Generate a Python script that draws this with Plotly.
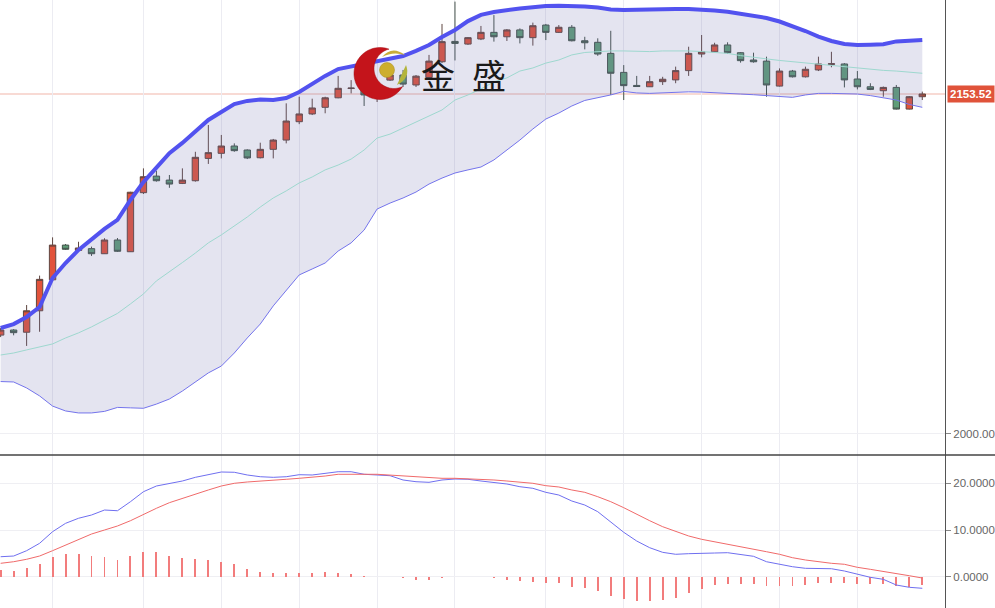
import numpy as np
import plotly.graph_objects as go

# ---------------- data ----------------
open_ = [2044.5, 2046.8, 2045.8, 2055.5, 2069.5, 2085.2, 2082.8, 2083.6, 2081.3, 2087.5,
         2082.2, 2108.9, 2116.4, 2114.6, 2113.1, 2114.3, 2124.4, 2126.7, 2130.0, 2128.2,
         2124.7, 2128.5, 2132.7, 2141.0, 2144.5, 2147.5, 2151.8, 2156.0, 2158.9, 2153.1,
         2159.8, 2162.1, 2157.6, 2161.0, 2168.1, 2177.3, 2176.1, 2178.4, 2181.4, 2179.4,
         2182.5, 2179.0, 2184.7, 2181.4, 2183.7, 2177.6, 2176.9, 2171.9, 2163.3, 2157.4,
         2156.8, 2159.1, 2159.9, 2164.1, 2171.6, 2172.6, 2175.7, 2172.2, 2168.9, 2168.4,
         2157.1, 2163.9, 2161.3, 2164.4, 2166.9, 2167.1, 2160.3, 2156.8, 2155.0, 2156.5,
         2146.7, 2152.3]
high = [2047.7, 2047.2, 2058.1, 2071.4, 2088.7, 2085.7, 2086.7, 2084.5, 2088.3, 2088.4,
        2109.3, 2119.9, 2118.8, 2116.9, 2119.9, 2127.4, 2139.5, 2135.0, 2131.2, 2128.5,
        2131.5, 2133.2, 2149.3, 2152.3, 2151.4, 2152.3, 2161.7, 2159.8, 2160.8, 2159.8,
        2163.6, 2164.4, 2162.1, 2171.2, 2185.2, 2195.3, 2179.3, 2184.3, 2189.2, 2182.9,
        2183.2, 2185.8, 2185.2, 2184.7, 2184.7, 2179.4, 2178.7, 2182.1, 2166.6, 2161.7,
        2161.7, 2161.3, 2165.9, 2174.9, 2180.2, 2176.7, 2176.9, 2172.5, 2172.2, 2170.4,
        2165.1, 2164.4, 2165.9, 2170.4, 2172.6, 2167.5, 2163.9, 2158.4, 2156.9, 2157.6,
        2152.6, 2154.6]
low = [2043.6, 2044.4, 2039.6, 2046.0, 2069.3, 2083.0, 2082.5, 2080.3, 2081.2, 2082.1,
       2082.1, 2108.3, 2113.9, 2111.1, 2112.8, 2113.9, 2121.9, 2124.4, 2127.4, 2124.1,
       2124.4, 2124.4, 2131.2, 2139.9, 2144.0, 2144.8, 2151.6, 2153.8, 2148.1, 2149.9,
       2159.4, 2156.7, 2156.7, 2160.8, 2167.5, 2168.7, 2175.7, 2177.9, 2177.2, 2177.5,
       2176.4, 2175.4, 2177.9, 2181.1, 2177.3, 2173.7, 2170.8, 2153.1, 2150.8, 2156.7,
       2156.7, 2157.6, 2158.4, 2161.7, 2170.1, 2172.3, 2171.8, 2167.7, 2167.7, 2152.3,
       2156.9, 2161.0, 2161.0, 2163.9, 2165.6, 2156.5, 2155.6, 2155.3, 2152.3, 2146.5,
       2146.5, 2150.8]
close = [2046.8, 2045.6, 2055.5, 2069.7, 2085.2, 2083.3, 2083.9, 2081.3, 2087.5, 2082.4,
         2109.1, 2116.1, 2114.3, 2112.8, 2114.6, 2124.9, 2127.0, 2130.0, 2127.9, 2124.6,
         2128.5, 2132.7, 2141.3, 2144.5, 2147.2, 2151.8, 2156.1, 2156.2, 2153.1, 2157.6,
         2162.1, 2158.0, 2161.6, 2168.4, 2177.2, 2176.4, 2179.0, 2181.4, 2179.4, 2182.5,
         2179.0, 2184.4, 2181.4, 2183.7, 2177.6, 2176.7, 2171.6, 2162.9, 2157.3, 2156.9,
         2159.1, 2160.2, 2164.1, 2171.9, 2172.6, 2175.7, 2172.2, 2168.6, 2168.1, 2157.6,
         2163.9, 2161.3, 2164.7, 2167.1, 2167.2, 2159.9, 2156.8, 2155.6, 2156.5, 2146.7,
         2152.3, 2153.52]

bb_upper = [2047.7, 2049.5, 2052.7, 2057.2, 2070.3, 2077.1, 2083.0, 2088.0, 2092.5, 2096.6,
            2105.6, 2113.7, 2120.5, 2126.8, 2131.4, 2136.8, 2141.8, 2145.4, 2149.0, 2150.4,
            2151.0, 2150.8, 2151.7, 2154.4, 2158.1, 2161.7, 2164.8, 2166.0, 2167.1, 2168.5,
            2169.8, 2170.7, 2173.0, 2175.7, 2179.3, 2182.5, 2186.5, 2189.3, 2190.6, 2191.5,
            2192.2, 2192.7, 2193.3, 2193.4, 2193.3, 2193.1, 2192.6, 2191.7, 2191.5, 2191.7,
            2192.0, 2192.0, 2192.0, 2192.0, 2191.8, 2191.3, 2190.7, 2189.9, 2188.8, 2187.9,
            2186.3, 2184.3, 2182.0, 2179.5, 2177.5, 2176.1, 2175.7, 2175.8, 2176.0, 2177.3,
            2177.6, 2177.9]
bb_mid = [2035.5, 2036.4, 2037.8, 2039.1, 2040.5, 2043.2, 2045.5, 2048.2, 2051.3, 2054.3,
          2058.6, 2063.1, 2069.0, 2073.0, 2077.3, 2081.6, 2086.2, 2089.8, 2093.8, 2097.9,
          2102.4, 2106.5, 2109.7, 2113.3, 2116.0, 2119.2, 2121.4, 2124.1, 2128.2, 2133.6,
          2135.4, 2138.2, 2140.9, 2143.6, 2146.3, 2150.8, 2153.1, 2155.8, 2159.0, 2160.8,
          2163.9, 2165.3, 2167.5, 2168.9, 2171.2, 2172.3, 2172.7, 2173.0, 2173.0, 2172.7,
          2172.7, 2173.0, 2173.1, 2173.0, 2172.7, 2172.3, 2171.9, 2170.9, 2170.0, 2169.4,
          2168.7, 2168.1, 2167.5, 2167.1, 2166.5, 2166.0, 2165.1, 2164.7, 2164.2, 2163.9,
          2163.3, 2162.9]
bb_lower = [2023.5, 2023.3, 2020.6, 2017.0, 2012.4, 2010.2, 2009.3, 2009.3, 2010.0, 2011.8,
            2011.6, 2011.4, 2013.3, 2015.6, 2019.2, 2023.3, 2027.4, 2030.5, 2036.4, 2043.2,
            2049.5, 2057.7, 2064.9, 2071.7, 2074.4, 2077.1, 2082.5, 2086.2, 2092.0, 2101.5,
            2104.2, 2106.5, 2109.2, 2112.8, 2115.5, 2117.8, 2119.2, 2120.5, 2123.7, 2128.2,
            2132.7, 2137.7, 2142.2, 2144.9, 2148.1, 2150.6, 2151.7, 2153.1, 2154.7, 2154.0,
            2153.8, 2154.1, 2154.2, 2154.5, 2154.4, 2154.2, 2153.8, 2153.5, 2153.2, 2152.8,
            2152.4, 2152.0, 2153.1, 2153.8, 2153.8, 2153.8, 2153.5, 2152.8, 2151.9, 2150.8,
            2148.8, 2147.5]

dif = [4.28, 4.43, 5.57, 7.15, 9.64, 11.43, 12.51, 13.21, 14.28, 14.13,
       16.06, 18.20, 19.42, 20.00, 20.49, 21.28, 21.93, 22.42, 22.36, 21.78,
       21.41, 21.28, 21.41, 21.84, 21.78, 22.21, 22.48, 22.48, 21.93, 21.78,
       21.63, 20.71, 20.34, 20.21, 20.71, 20.92, 20.86, 20.49, 20.13, 19.85,
       19.27, 18.93, 18.07, 17.49, 16.21, 15.35, 13.92, 11.78, 9.51, 7.64,
       6.21, 5.22, 4.80, 4.93, 4.93, 5.07, 5.14, 4.80, 4.37, 3.21,
       2.66, 2.14, 1.80, 1.71, 1.71, 1.22, 0.51, -0.13, -0.56, -1.78,
       -2.27, -2.48]
dea = [2.87, 3.21, 3.73, 4.43, 5.57, 6.79, 8.01, 9.14, 10.00, 10.86,
       11.99, 13.36, 14.65, 15.85, 16.79, 17.64, 18.57, 19.42, 20.00, 20.28,
       20.43, 20.64, 20.86, 21.07, 21.28, 21.56, 21.93, 21.99, 21.93, 21.93,
       21.78, 21.56, 21.35, 21.20, 21.07, 21.07, 20.99, 20.86, 20.71, 20.49,
       20.21, 20.00, 19.49, 19.21, 18.57, 18.07, 17.13, 16.06, 14.78, 13.36,
       11.99, 10.71, 9.64, 8.72, 8.01, 7.49, 7.07, 6.42, 5.93, 5.35,
       4.80, 4.07, 3.58, 3.21, 2.87, 2.66, 2.01, 1.58, 1.07, 0.58,
       0.21, -0.28]
macd_hist = [1.43, 1.22, 1.80, 2.72, 4.15, 4.80, 4.80, 4.43, 4.15, 3.58,
             4.43, 5.22, 5.22, 4.50, 3.94, 3.79, 3.58, 3.21, 2.66, 1.58,
             1.01, 0.86, 0.86, 0.86, 0.86, 0.94, 0.90, 0.55, 0.06, 0.00,
             0.00, -0.36, -0.71, -0.71, -0.21, -0.14, -0.14, -0.07, -0.21, -0.71,
             -0.93, -1.07, -1.28, -1.43, -2.14, -2.50, -3.07, -4.07, -4.78, -5.21,
             -5.21, -5.07, -4.50, -3.43, -2.71, -1.78, -1.50, -1.50, -1.50, -2.00,
             -2.00, -2.00, -1.78, -1.43, -1.43, -1.43, -1.64, -1.64, -1.64, -2.00,
             -2.14, -1.78]

grid_idx = [4, 11, 17, 23, 29, 35, 42, 48, 54, 60, 66]
price_ticks = [2000]
macd_ticks = [0, 10, 20]
last_price = 2153.52
logo_text = ["金", "盛"]

n = len(close)
for arr in (open_, high, low, bb_upper, bb_mid, bb_lower, dif, dea, macd_hist):
    assert len(arr) == n, len(arr)
x = list(range(n))

# ---------------- layout geometry ----------------
W, H = 995, 608
PW = 945          # plot width in px (right margin holds the axis labels)
SPLIT = 455       # px from top where the MACD pane starts
split_paper = 1 - SPLIT / H


def pp(px, py):
    return px / PW, 1 - py / H


fig = go.Figure()

# Bollinger band fill
fig.add_trace(go.Scatter(x=x, y=bb_upper, mode="lines", line=dict(width=0, color="rgba(0,0,0,0)"),
                         hoverinfo="skip", showlegend=False))
fig.add_trace(go.Scatter(x=x, y=bb_lower, mode="lines", line=dict(color="#7474ec", width=1),
                         fill="tonexty", fillcolor="rgba(110,110,175,0.19)", showlegend=False))
fig.add_trace(go.Scatter(x=x, y=bb_mid, mode="lines", line=dict(color="#9ed8cf", width=1),
                         showlegend=False))
fig.add_trace(go.Scatter(x=x, y=bb_upper, mode="lines", line=dict(color="#5252ef", width=4),
                         showlegend=False))

fig.add_trace(go.Candlestick(
    x=x, open=open_, high=high, low=low, close=close,
    increasing=dict(fillcolor="#e2533b", line=dict(color="#5e4640", width=1)),
    decreasing=dict(fillcolor="#5f9e78", line=dict(color="#44524a", width=1)),
    whiskerwidth=0, showlegend=False))

# MACD pane
fig.add_trace(go.Bar(x=x, y=macd_hist, width=0.15, marker=dict(color="#f27c7c", line=dict(width=0)),
                     xaxis="x2", yaxis="y2", showlegend=False))
fig.add_trace(go.Scatter(x=x, y=dif, mode="lines", line=dict(color="#6f6ff0", width=1),
                         xaxis="x2", yaxis="y2", showlegend=False))
fig.add_trace(go.Scatter(x=x, y=dea, mode="lines", line=dict(color="#f06a6a", width=1),
                         xaxis="x2", yaxis="y2", showlegend=False))

axis_font = dict(family="Liberation Sans, Arial", size=11.5, color="#666666")
xcommon = dict(range=[-0.05, 72.75], tickvals=grid_idx, showticklabels=False, ticks="",
               showgrid=True, gridcolor="#ececf2", gridwidth=1, zeroline=False, showline=False,
               fixedrange=True)
fig.update_layout(
    width=W, height=H,
    margin=dict(l=0, r=W - PW, t=0, b=0, autoexpand=False),
    paper_bgcolor="white", plot_bgcolor="white",
    showlegend=False,
    xaxis=dict(domain=[0, 1], anchor="y", rangeslider=dict(visible=False), **xcommon),
    xaxis2=dict(domain=[0, 1], anchor="y2", **xcommon),
    yaxis=dict(domain=[split_paper, 1], side="right", range=[1990.28, 2196.03],
               tickvals=price_ticks, tickformat=".2f", ticks="outside", ticklen=5,
               tickcolor="#888888", showline=True, linecolor="#555555", linewidth=1,
               showgrid=True, gridcolor="#efeff3", zeroline=False, tickfont=axis_font,
               automargin=False),
    yaxis2=dict(domain=[0, split_paper], side="right", range=[-6.70, 26.06],
                tickvals=macd_ticks, tickformat=".4f", ticks="outside", ticklen=5,
                tickcolor="#888888", showline=True, linecolor="#555555", linewidth=1,
                showgrid=True, gridcolor="#efeff3", zeroline=False, tickfont=axis_font,
                automargin=False),
    bargap=0,
    hovermode=False,
)

shapes = []
# last price line
shapes.append(dict(type="line", xref="paper", yref="y", x0=0, x1=1, y0=last_price, y1=last_price,
                   line=dict(color="rgba(232,120,100,0.55)", width=1), layer="below"))
# pane separator
shapes.append(dict(type="line", xref="paper", yref="paper", x0=0, x1=W / PW,
                   y0=split_paper, y1=split_paper, line=dict(color="#444444", width=1.5)))

# ---- logo: red crescent, gold ball, leaves ----
C1, R1 = np.array([380.0, 73.5]), 26.0
C2, R2 = np.array([394.0, 68.5]), 20.0
dvec = C2 - C1
d = np.hypot(*dvec)
a = (R1 ** 2 - R2 ** 2 + d ** 2) / (2 * d)
h = np.sqrt(R1 ** 2 - a ** 2)
base = C1 + a * dvec / d
perp = np.array([-dvec[1], dvec[0]]) / d
PA = base + h * perp
PB = base - h * perp
t1a = np.arctan2(*(PA - C1)[::-1])
t1b = np.arctan2(*(PB - C1)[::-1])
t2a = np.arctan2(*(PA - C2)[::-1])
t2b = np.arctan2(*(PB - C2)[::-1])


def arc(c, r, t0, t1, ok, n_pts=60):
    if t1 < t0:
        t1 += 2 * np.pi
    ts = np.linspace(t0, t1, n_pts)
    mid = c + r * np.array([np.cos(ts[n_pts // 2]), np.sin(ts[n_pts // 2])])
    if not ok(mid):
        ts = np.linspace(t0, t1 - 2 * np.pi, n_pts)
    return [c + r * np.array([np.cos(t), np.sin(t)]) for t in ts]


outer = arc(C1, R1, t1a, t1b, lambda p: np.hypot(*(p - C2)) > R2)
inner = arc(C2, R2, t2b, t2a, lambda p: np.hypot(*(p - C1)) < R1)
pts = outer + inner
path = "M " + " L ".join("%.5f,%.5f" % pp(p[0], p[1]) for p in pts) + " Z"
shapes.append(dict(type="path", xref="paper", yref="paper", path=path,
                   fillcolor="#c4141b", line=dict(color="#a50f15", width=0.5), layer="above"))


def qpath(points):
    (x0, y0), (qx1, qy1), (x1, y1), (qx2, qy2) = points
    s = "M %.5f,%.5f " % pp(x0, y0)
    s += "Q %.5f,%.5f %.5f,%.5f " % (*pp(qx1, qy1), *pp(x1, y1))
    s += "Q %.5f,%.5f %.5f,%.5f Z" % (*pp(qx2, qy2), *pp(x0, y0))
    return s


shapes.append(dict(type="path", xref="paper", yref="paper",
                   path=qpath([(382, 57), (392, 45), (405, 55), (393, 51)]),
                   fillcolor="#c9ad3a", line=dict(width=0), layer="above"))
shapes.append(dict(type="path", xref="paper", yref="paper",
                   path=qpath([(397, 85), (411, 78), (406, 65), (401, 76)]),
                   fillcolor="#b3b43c", line=dict(width=0), layer="above"))
bx0, by0 = pp(379.5, 62.5)
bx1, by1 = pp(394.5, 77.5)
shapes.append(dict(type="circle", xref="paper", yref="paper", x0=bx0, y0=by1, x1=bx1, y1=by0,
                   fillcolor="#cdae2e", line=dict(color="#a88a1c", width=0.5), layer="above"))

fig.update_layout(shapes=shapes)

annotations = []
for ch, cx in zip(logo_text, [437.5, 489.0]):
    ax_, ay_ = pp(cx, 75)
    annotations.append(dict(xref="paper", yref="paper", x=ax_, y=ay_, text=ch, showarrow=False,
                            xanchor="center", yanchor="middle",
                            font=dict(family="Noto Sans CJK SC", size=34, color="#1a1a1a")))
annotations.append(dict(xref="paper", yref="y", x=1, y=last_price, text="<b>%.2f</b>" % last_price,
                        showarrow=False, xanchor="left", yanchor="middle", xshift=2,
                        bgcolor="#e0533a", borderpad=2,
                        font=dict(family="Liberation Sans, Arial", size=11.5, color="white")))
fig.update_layout(annotations=annotations)

fig.write_html("out.html",
               config={"displayModeBar": False, "staticPlot": True},
               post_script="document.body.style.margin='0';"
                           "document.body.style.padding='0';"
                           "document.body.style.overflow='hidden';"
                           "document.documentElement.style.overflow='hidden';")
